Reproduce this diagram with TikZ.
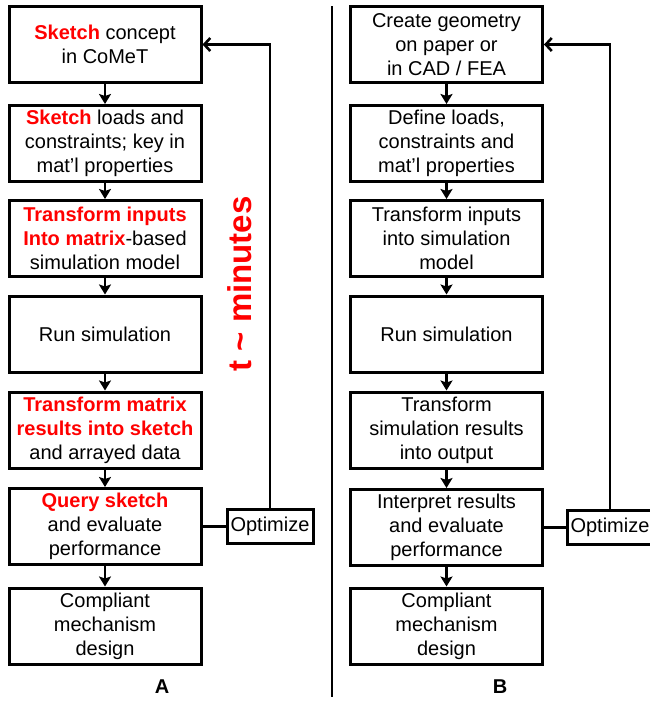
\documentclass[tikz,border=0pt]{standalone}
\usepackage{fontspec}
\setmainfont{Liberation Sans}
\usepackage{tikz}
\usepackage{xcolor}
\usetikzlibrary{arrows.meta}
\definecolor{ink}{HTML}{000000}
\definecolor{hot}{HTML}{FF0000}
\newcommand{\redtxt}[1]{\textcolor{hot}{\bfseries #1}}
\tikzset{
  stepbox/.style ={draw=ink, fill=white, line width=3pt,
                   minimum width=192pt, minimum height=76pt,
                   align=center, inner sep=2pt,
                   font=\fontsize{20}{24}\selectfont},
  optbox/.style  ={stepbox, minimum width=86pt, minimum height=34pt},
  arr/.style     ={-{Stealth[length=10pt,width=12pt,inset=2pt]}, line width=2.6pt},
  back/.style    ={-{Straight Barb[length=6pt,width=13pt]}, line width=2.6pt},
  link/.style    ={line width=2.6pt},
  tag/.style     ={font=\fontsize{20}{24}\selectfont\bfseries},
}
\begin{document}
\begin{tikzpicture}[x=1pt,y=-1pt]
  \useasboundingbox (0,0) rectangle (650,702);

  \node[stepbox] (a1) at (105, 44.5) {\redtxt{Sketch} concept\\in CoMeT};
  \node[stepbox] (a2) at (105,143.5) {\redtxt{Sketch} loads and\\constraints; key in\\mat’l properties};
  \node[stepbox] (a3) at (105,238.5) {\redtxt{Transform inputs}\\\redtxt{Into matrix}-based\\simulation model};
  \node[stepbox] (a4) at (105,334)   {Run simulation};
  \node[stepbox] (a5) at (105,430)   {\redtxt{Transform matrix}\\\redtxt{results into sketch}\\and arrayed data};
  \node[stepbox] (a6) at (105,526.5) {\redtxt{Query sketch}\\and evaluate\\performance};
  \node[stepbox] (a7) at (105,626)   {Compliant\\mechanism\\design};
  \node[optbox]  (optA) at (270,526.5) {Optimize};
  \node[rotate=90, text=hot, font=\fontsize{33}{40}\selectfont\bfseries] (tmin) at (240,284) {t \textasciitilde{} minutes};
  \node[tag] (labA) at (162,687) {A};

  \node[stepbox] (b1) at (446.5, 44.5) {Create geometry\\on paper or\\in CAD / FEA};
  \node[stepbox] (b2) at (446.5,143.5) {Define loads,\\constraints and\\mat’l properties};
  \node[stepbox] (b3) at (446.5,238.5) {Transform inputs\\into simulation\\model};
  \node[stepbox] (b4) at (446.5,334)   {Run simulation};
  \node[stepbox] (b5) at (446.5,430)   {Transform\\simulation results\\into output};
  \node[stepbox] (b6) at (446.5,527.5) {Interpret results\\and evaluate\\performance};
  \node[stepbox] (b7) at (446.5,626)   {Compliant\\mechanism\\design};
  \node[optbox]  (optB) at (610,527.5) {Optimize};
  \node[tag] (labB) at (500,687) {B};

  \draw[line width=2pt] (332,6) -- (332,697);

  \draw[arr] (a1.south) -- (a2.north);
  \draw[arr] (a2.south) -- (a3.north);
  \draw[arr] (a3.south) -- (a4.north);
  \draw[arr] (a4.south) -- (a5.north);
  \draw[arr] (a5.south) -- (a6.north);
  \draw[arr] (a6.south) -- (a7.north);
  \draw[link] (a6.east) -- (optA.west);
  \draw[back] (optA.north) |- (a1.east);

  \draw[arr] (b1.south) -- (b2.north);
  \draw[arr] (b2.south) -- (b3.north);
  \draw[arr] (b3.south) -- (b4.north);
  \draw[arr] (b4.south) -- (b5.north);
  \draw[arr] (b5.south) -- (b6.north);
  \draw[arr] (b6.south) -- (b7.north);
  \draw[link] (b6.east) -- (optB.west);
  \draw[back] (optB.north) |- (b1.east);
\end{tikzpicture}
\end{document}
